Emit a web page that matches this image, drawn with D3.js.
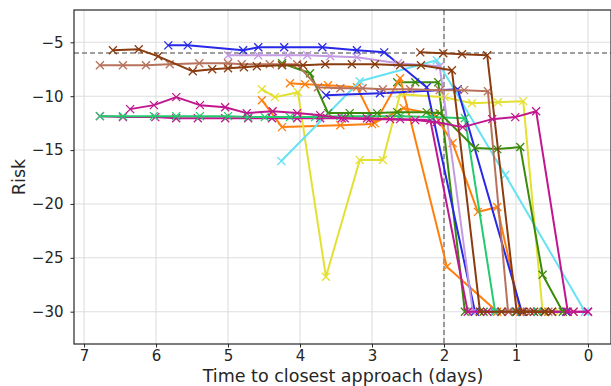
<!DOCTYPE html>
<html>
<head>
<meta charset="utf-8">
<script src="https://cdn.jsdelivr.net/npm/d3@7"></script>
<style>
  body { margin: 0; background: #fff; }
  svg { display: block; font-family: "DejaVu Sans", sans-serif; }
</style>
</head>
<body>
<div id="chart"></div>
<script>
// tick values
const xTicks = [7, 6, 5, 4, 3, 2, 1, 0];
const yTicks = [-5, -10, -15, -20, -25, -30];
const refRisk = -6;
const refDays = 2;

// series: days to closest approach / risk
const brightGreenX = [6.78, 6.46, 6.03, 5.72, 5.39, 5.00, 4.72, 4.49, 4.14, 3.79, 3.44, 3.03, 2.61, 2.19, 1.71, 1.29, 1.0, 0.7];
const brightGreenY = [-11.85, -11.85, -11.85, -11.85, -11.85, -11.85, -11.94, -11.94, -11.94, -11.94, -11.85, -11.85, -11.85, -11.94, -12.04, -30, -30, -30];
const darkGreenBX = [2.65, 2.40, 2.08, 1.71, 1.45];
const darkGreenBY = [-8.7, -8.7, -8.7, -30, -30];
const orangeAX = [4.14, 3.93, 3.61, 3.21, 2.96, 2.61, 1.96, 1.26, 1.0, 0.7];
const orangeAY = [-8.8, -8.89, -8.98, -9.17, -12.5, -8.33, -25.83, -30, -30, -30];
const orangeBX = [4.53, 4.25, 3.44, 3.0, 2.56, 2.13, 1.88, 1.53, 1.26, 0.94, 0.6, 0.3];
const orangeBY = [-10.37, -12.87, -12.69, -12.59, -11.11, -11.67, -14.35, -20.74, -20.28, -30, -30, -30];
const yellowX = [4.53, 4.35, 4.03, 3.64, 3.17, 2.85, 2.61, 1.99, 1.61, 1.25, 0.9, 0.63, 0.4, 0.2];
const yellowY = [-9.35, -10.09, -9.63, -26.76, -15.93, -15.93, -9.81, -10.09, -10.65, -10.56, -10.46, -30, -30, -30];
const cyanX = [4.26, 3.17, 2.10, 1.15, 0.04];
const cyanY = [-16.02, -8.61, -6.67, -17.31, -30];
const blueAX = [5.83, 5.56, 4.79, 4.58, 4.22, 3.69, 3.21, 2.83, 2.24, 1.57, 1.3, 1.0, 0.7];
const blueAY = [-5.28, -5.28, -5.74, -5.46, -5.46, -5.46, -5.74, -5.93, -9.17, -30, -30, -30, -30];
const blueBX = [3.64, 2.89, 1.81, 0.92, 0.6, 0.3];
const blueBY = [-9.91, -9.72, -9.35, -30, -30, -30];
const lavenderX = [5.0, 4.58, 4.17, 3.9, 3.58, 3.21, 2.64, 2.06, 1.6, 1.3, 1.0];
const lavenderY = [-6.2, -6.2, -6.2, -6.2, -6.3, -6.39, -6.94, -7.22, -30, -30, -30];
const magentaBX = [6.78, 6.46, 6.01, 5.72, 5.42, 5.04, 4.72, 4.39, 4.04, 3.72, 3.38, 3.03, 2.61, 2.19, 1.67, 1.4, 1.1, 0.8, 0.5, 0.2, 0.0];
const magentaBY = [-11.85, -11.94, -11.94, -12.04, -12.04, -12.04, -12.04, -12.04, -12.04, -12.04, -12.04, -12.13, -12.13, -12.22, -30, -30, -30, -30, -30, -30, -30];
const darkGreenAX = [4.25, 3.86, 3.61, 3.31, 2.93, 2.65, 2.24, 2.06, 1.57, 1.26, 0.94, 0.63, 0.35];
const darkGreenAY = [-6.94, -7.87, -11.57, -11.57, -11.57, -11.48, -11.48, -11.57, -14.81, -14.91, -14.72, -26.57, -30];
const salmonX = [6.78, 6.46, 6.14, 5.81, 5.40, 5.00, 4.81, 4.42, 4.04, 3.75, 3.44, 3.13, 2.85, 2.47, 2.06, 1.72, 1.39, 1.11, 0.85, 0.55];
const salmonY = [-7.13, -7.13, -7.13, -7.04, -6.94, -6.94, -7.04, -7.04, -7.04, -9.17, -9.26, -9.26, -9.35, -9.35, -9.44, -9.44, -9.54, -30, -30, -30];
const darkBrownAX = [6.60, 6.24, 5.97, 5.49, 5.22, 5.00, 4.78, 4.60, 4.25, 3.96, 3.65, 3.28, 2.96, 2.61, 2.32, 1.89, 1.50, 1.2, 0.9, 0.6];
const darkBrownAY = [-5.74, -5.65, -6.30, -7.69, -7.50, -7.41, -7.31, -7.22, -7.13, -7.13, -7.04, -7.04, -7.04, -7.13, -7.13, -7.59, -30, -30, -30, -30];
const darkBrownBX = [2.33, 2.01, 1.75, 1.40, 0.99, 0.75, 0.5];
const darkBrownBY = [-5.93, -6.02, -6.11, -6.20, -30, -30, -30];
const magentaAX = [6.36, 6.03, 5.72, 5.39, 5.04, 4.74, 4.38, 4.04, 3.72, 3.42, 3.07, 2.75, 2.40, 2.10, 1.74, 1.33, 1.01, 0.72, 0.28, 0.0];
const magentaAY = [-11.20, -10.83, -10.09, -10.83, -11.02, -11.57, -11.39, -11.57, -11.76, -12.04, -12.04, -12.13, -12.22, -12.41, -12.87, -12.13, -11.94, -11.39, -30, -30];

const series = [
  { xs: darkGreenBX, ys: darkGreenBY, color: '#3a8a0c' },
  { xs: orangeAX, ys: orangeAY, color: '#ff7f0e' },
  { xs: orangeBX, ys: orangeBY, color: '#ff7f0e' },
  { xs: yellowX, ys: yellowY, color: '#e4e033' },
  { xs: cyanX, ys: cyanY, color: '#66e2f2' },
  { xs: blueAX, ys: blueAY, color: '#2828e8' },
  { xs: blueBX, ys: blueBY, color: '#2828e8' },
  { xs: lavenderX, ys: lavenderY, color: '#c39be3' },
  { xs: magentaBX, ys: magentaBY, color: '#c0168e' },
  { xs: brightGreenX, ys: brightGreenY, color: '#22cc6e' },
  { xs: darkGreenAX, ys: darkGreenAY, color: '#3a8a0c' },
  { xs: salmonX, ys: salmonY, color: '#b8725c' },
  { xs: darkBrownAX, ys: darkBrownAY, color: '#8b3c0f' },
  { xs: darkBrownBX, ys: darkBrownBY, color: '#8b3c0f' },
  { xs: magentaAX, ys: magentaAY, color: '#c0168e' }
];

const margin = { top: 10, right: 0, bottom: 42, left: 74 };
const width = 611 - margin.left - margin.right;
const height = 386 - margin.top - margin.bottom;

const svg = d3.select('#chart').append('svg')
  .attr('width', 611)
  .attr('height', 386);

const group = svg.append('g')
  .attr('transform', `translate(${margin.left}, ${margin.top})`);

const x = d3.scaleLinear().domain([7.14, -0.32]).range([0, width]);
const y = d3.scaleLinear().domain([-33, -2]).range([height, 0]);

const fmt = d => d < 0 ? '\u2212' + Math.abs(d) : String(d);

// grid
group.append('g')
  .attr('class', 'grid')
  .selectAll('line.gx')
  .data(xTicks)
  .enter().append('line')
  .attr('x1', d => x(d)).attr('x2', d => x(d))
  .attr('y1', 0).attr('y2', height)
  .attr('stroke', '#dedede').attr('stroke-width', 1.1);

group.select('.grid')
  .selectAll('line.gy')
  .data(yTicks)
  .enter().append('line')
  .attr('x1', 0).attr('x2', width)
  .attr('y1', d => y(d)).attr('y2', d => y(d))
  .attr('stroke', '#dedede').attr('stroke-width', 1.1);

// reference lines
group.append('line')
  .attr('x1', 0).attr('x2', width)
  .attr('y1', y(refRisk)).attr('y2', y(refRisk))
  .attr('stroke', '#808080').attr('stroke-width', 1.5)
  .attr('stroke-dasharray', '5,3');

group.append('line')
  .attr('x1', x(refDays)).attr('x2', x(refDays))
  .attr('y1', 0).attr('y2', height)
  .attr('stroke', '#808080').attr('stroke-width', 1.5)
  .attr('stroke-dasharray', '5,3');

// lines + markers
const line = d3.line()
  .x(d => x(d[0]))
  .y(d => y(d[1]));

const plot = group.append('g')
  .attr('clip-path', 'url(#clip)');

svg.append('clipPath').attr('id', 'clip')
  .append('rect').attr('width', width).attr('height', height);

series.forEach(s => {
  const pts = s.xs.map((v, i) => [v, s.ys[i]]);
  const g = plot.append('g').attr('class', 'cat');
  g.append('path')
    .attr('d', line(pts))
    .style('fill', 'none')
    .style('stroke', s.color)
    .style('stroke-width', 2)
    .style('stroke-linejoin', 'round');
  g.selectAll('path.mark')
    .data(pts)
    .enter().append('path')
    .attr('class', 'mark')
    .attr('d', d => {
      const cx = x(d[0]), cy = y(d[1]), r = 4;
      return `M${cx - r},${cy - r}L${cx + r},${cy + r}M${cx - r},${cy + r}L${cx + r},${cy - r}`;
    })
    .style('stroke', s.color)
    .style('stroke-width', 1.3);
});

// frame
group.append('rect')
  .attr('width', width).attr('height', height)
  .attr('fill', 'none')
  .attr('stroke', '#262626')
  .attr('stroke-width', 1.2);

// axes
const xAxis = group.append('g')
  .attr('class', 'x-axis')
  .attr('transform', `translate(0, ${height})`)
  .call(d3.axisBottom(x).tickValues(xTicks).tickFormat(fmt).tickSize(3.5).tickPadding(3));

const yAxis = group.append('g')
  .attr('class', 'y-axis')
  .call(d3.axisLeft(y).tickValues(yTicks).tickFormat(fmt).tickSize(3.5).tickPadding(7));

[xAxis, yAxis].forEach(a => {
  a.select('.domain').remove();
  a.selectAll('line').attr('stroke', '#262626');
  a.selectAll('text')
    .attr('fill', '#262626')
    .style('font-size', '15px')
    .style('font-family', '"DejaVu Sans", sans-serif');
});

svg.append('text')
  .attr('x', 343)
  .attr('y', 382)
  .attr('text-anchor', 'middle')
  .attr('fill', '#262626')
  .style('font-size', '17.5px')
  .text('Time to closest approach (days)');

svg.append('text')
  .attr('transform', `translate(25, ${margin.top + height / 2}) rotate(-90)`)
  .attr('text-anchor', 'middle')
  .attr('fill', '#262626')
  .style('font-size', '17.5px')
  .text('Risk');
</script>
</body>
</html>
